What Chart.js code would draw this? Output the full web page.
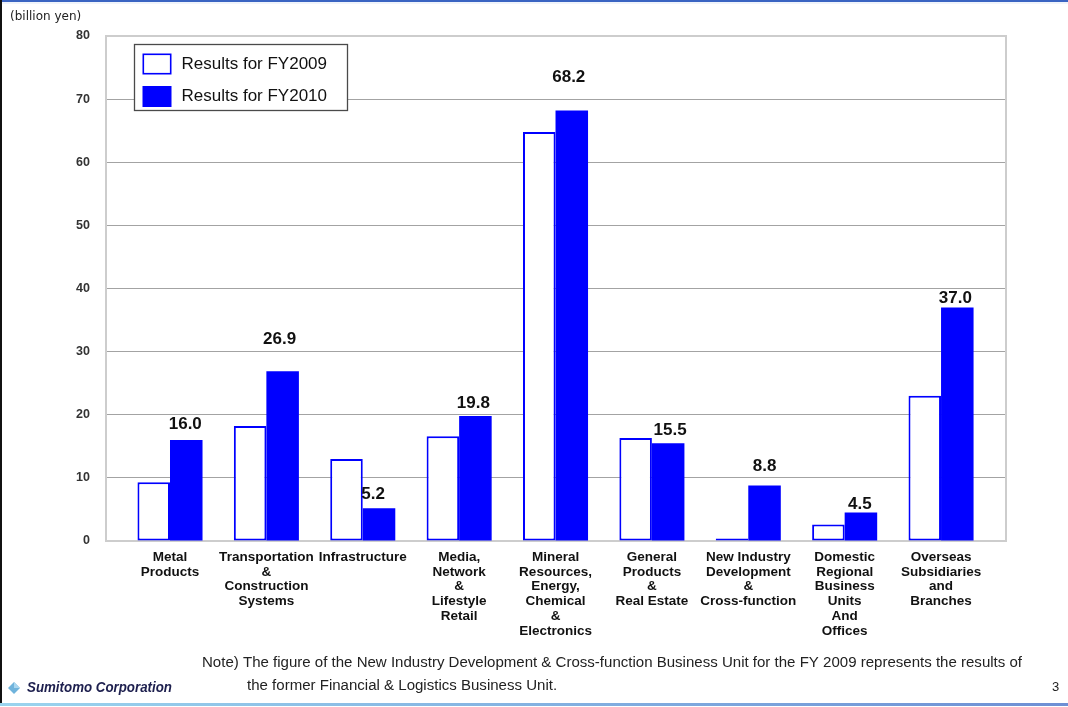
<!DOCTYPE html>
<html>
<head>
<meta charset="utf-8">
<script src="https://cdn.jsdelivr.net/npm/chart.js@4.4.1/dist/chart.umd.min.js"></script>
<style>
  html, body { margin: 0; padding: 0; background: #ffffff; }
  #wrap { position: relative; width: 1068px; height: 707px; overflow: hidden; }
  canvas { display: block; }
</style>
</head>
<body>
<div id="wrap"><canvas id="chart" width="1068" height="707"></canvas></div>
<script>
// Business units (each label split into its printed lines)
const categories = [
  ['Metal', 'Products'],
  ['Transportation', '&', 'Construction', 'Systems'],
  ['Infrastructure'],
  ['Media,', 'Network', '&', 'Lifestyle', 'Retail'],
  ['Mineral', 'Resources,', 'Energy,', 'Chemical', '&', 'Electronics'],
  ['General', 'Products', '&', 'Real Estate'],
  ['New Industry', 'Development', '&', 'Cross-function'],
  ['Domestic', 'Regional', 'Business', 'Units', 'And', 'Offices'],
  ['Overseas', 'Subsidiaries', 'and', 'Branches']
];

// Net income by business unit, billion yen
const fy2009 = [9.3, 18.2, 13.0, 16.6, 64.8, 16.3, 0.4, 2.6, 23.0];
const fy2010 = [16.0, 26.9, 5.2, 19.8, 68.2, 15.5, 8.8, 4.5, 37.0];

const seriesNames = ['Results for FY2009', 'Results for FY2010'];

// Value axis: 0 to 80 in steps of 10
const yMin = 0;
const yMax = 80;
const yStep = 10;

const BLUE = '#0000ff';
const SANS = '"Liberation Sans", Arial, Helvetica, sans-serif';

// Outline around the plotting area
const plotFrame = {
  id: 'plotFrame',
  beforeDatasetsDraw(chart) {
    const a = chart.chartArea, ctx = chart.ctx;
    ctx.save();
    ctx.strokeStyle = '#cdcdcd';
    ctx.lineWidth = 2;
    ctx.strokeRect(a.left, a.top, a.right - a.left, a.bottom - a.top);
    ctx.restore();
  }
};

// FY2010 value printed over each filled bar
const valueLabels = {
  id: 'valueLabels',
  afterDatasetsDraw(chart, args, opts) {
    const meta = chart.getDatasetMeta(1);
    const ctx = chart.ctx;
    ctx.save();
    ctx.font = 'bold 17px ' + SANS;
    ctx.fillStyle = '#111111';
    ctx.textAlign = 'center';
    ctx.textBaseline = 'middle';
    meta.data.forEach((bar, i) => {
      ctx.fillText(fy2010[i].toFixed(1), bar.x + opts.shift[i], bar.y - opts.lift[i]);
    });
    ctx.restore();
  }
};

// Boxed legend in the upper-left corner of the plot
const boxLegend = {
  id: 'boxLegend',
  afterDraw(chart) {
    const ctx = chart.ctx;
    const a = chart.chartArea;
    const x0 = a.left + 28.5, y0 = a.top + 8.5, w = 213, h = 66;
    ctx.save();
    ctx.fillStyle = '#ffffff';
    ctx.fillRect(x0, y0, w, h);
    ctx.strokeStyle = '#4a4a4a';
    ctx.lineWidth = 1.3;
    ctx.strokeRect(x0, y0, w, h);
    ctx.font = '17px ' + SANS;
    ctx.textBaseline = 'middle';
    ctx.textAlign = 'left';
    chart.data.datasets.forEach((ds, i) => {
      const sy = y0 + 9 + i * 32.5;
      const sx = x0 + 8;
      ctx.fillStyle = ds.backgroundColor;
      ctx.fillRect(sx, sy, 29, 21);
      if (ds.borderWidth) {
        ctx.strokeStyle = ds.borderColor;
        ctx.lineWidth = 1.6;
        ctx.strokeRect(sx + 0.8, sy + 0.8, 27.4, 19.4);
      }
      ctx.fillStyle = '#111111';
      ctx.fillText(ds.label, x0 + 47, sy + 10.5);
    });
    ctx.restore();
  }
};

// Slide furniture: unit caption, footnote, logo, page number, rules
const pageText = {
  id: 'pageText',
  afterDraw(chart) {
    const ctx = chart.ctx;
    const W = chart.width, H = chart.height;
    ctx.save();

    // rules
    ctx.fillStyle = '#3a64c2';
    ctx.fillRect(0, 0, W, 2);
    ctx.fillStyle = '#f0f4fb';
    ctx.fillRect(0, 2, W, 2);
    ctx.fillStyle = '#111111';
    ctx.fillRect(0, 0, 2, H - 3);
    const g = ctx.createLinearGradient(0, 0, W, 0);
    g.addColorStop(0, '#9ad4ee');
    g.addColorStop(1, '#6e8fd4');
    ctx.fillStyle = g;
    ctx.fillRect(0, H - 4, W, 3);

    // unit caption
    ctx.fillStyle = '#222222';
    ctx.textBaseline = 'middle';
    ctx.textAlign = 'left';
    ctx.font = '12px "DejaVu Sans", ' + SANS;
    ctx.fillText('(billion yen)', 10, 17);

    // footnote, set slightly condensed
    const note1 = 'Note) The figure of the New Industry Development & Cross-function Business Unit for the FY 2009 represents the results of';
    const note2 = 'the former Financial & Logistics Business Unit.';
    ctx.font = '14px ' + SANS;
    const sx = 820 / ctx.measureText(note1).width;
    ctx.fillStyle = '#222222';
    ctx.save();
    ctx.translate(202, 663);
    ctx.scale(sx, 1);
    ctx.fillText(note1, 0, 0);
    ctx.restore();
    ctx.save();
    ctx.translate(247, 686);
    ctx.scale(sx, 1);
    ctx.fillText(note2, 0, 0);
    ctx.restore();

    // page number
    ctx.font = '13px ' + SANS;
    ctx.fillStyle = '#222222';
    ctx.fillText('3', 1052, 687);

    // logo mark and name
    ctx.fillStyle = '#6fb3dc';
    ctx.beginPath();
    ctx.moveTo(14, 682); ctx.lineTo(20, 688); ctx.lineTo(14, 694); ctx.lineTo(8, 688);
    ctx.closePath();
    ctx.fill();
    ctx.fillStyle = '#a9d6ef';
    ctx.beginPath();
    ctx.moveTo(14, 682); ctx.lineTo(20, 688); ctx.lineTo(14, 688); ctx.closePath();
    ctx.fill();
    ctx.font = 'italic bold 15px ' + SANS;
    const lw = ctx.measureText('Sumitomo Corporation').width;
    ctx.fillStyle = '#1d1f4e';
    ctx.save();
    ctx.translate(27, 688);
    ctx.scale(145 / lw, 1);
    ctx.fillText('Sumitomo Corporation', 0, 0);
    ctx.restore();

    ctx.restore();
  }
};

const chart = new Chart(document.getElementById('chart'), {
  type: 'bar',
  data: {
    datasets: [
      {
        label: seriesNames[0],
        data: fy2009.map((v, i) => ({ x: i, y: v })),
        backgroundColor: '#ffffff',
        borderColor: BLUE,
        borderWidth: 2,
        borderSkipped: false
      },
      {
        label: seriesNames[1],
        data: fy2010.map((v, i) => ({ x: i, y: v })),
        backgroundColor: BLUE,
        borderColor: BLUE,
        borderWidth: 0,
        borderSkipped: false
      }
    ]
  },
  options: {
    responsive: false,
    animation: false,
    devicePixelRatio: 1,
    layout: { padding: { top: 36, right: 62, left: 0, bottom: 0 } },
    categoryPercentage: 0.675,
    barPercentage: 1.0,
    plugins: {
      legend: { display: false },
      tooltip: { enabled: false },
      valueLabels: {
        lift: [16, 32, 14, 13, 33, 13, 19, 8, 9],
        shift: [-1, -3, -6, -2, -3, 2, 0, -1, -2]
      }
    },
    scales: {
      x: {
        type: 'linear',
        offset: false,
        bounds: 'data',
        min: -0.664,
        max: 8.674,
        grid: { display: false, drawTicks: false },
        border: { display: false },
        // one tick per business unit
        afterBuildTicks(scale) {
          scale.ticks = categories.map((_, i) => ({ value: i }));
        },
        afterFit(scale) { scale.height = 166; },
        ticks: {
          autoSkip: false,
          maxRotation: 0,
          minRotation: 0,
          padding: 9,
          color: '#111111',
          font: { family: SANS, size: 13.5, weight: 'bold', lineHeight: '14.7px' },
          callback(value) {
            return categories[Math.round(value)] || '';
          }
        }
      },
      y: {
        min: yMin,
        max: yMax,
        grid: {
          drawTicks: false,
          color: (c) => (c.tick && (c.tick.value === yMin || c.tick.value === yMax)) ? 'rgba(0,0,0,0)' : '#a3a3a3',
          lineWidth: 1
        },
        border: { display: false },
        afterFit(scale) { scale.width = 106; },
        ticks: {
          stepSize: yStep,
          padding: 16,
          color: '#333333',
          font: { family: SANS, size: 12.5, weight: 'bold' }
        }
      }
    }
  },
  plugins: [plotFrame, valueLabels, boxLegend, pageText]
});
</script>
</body>
</html>
